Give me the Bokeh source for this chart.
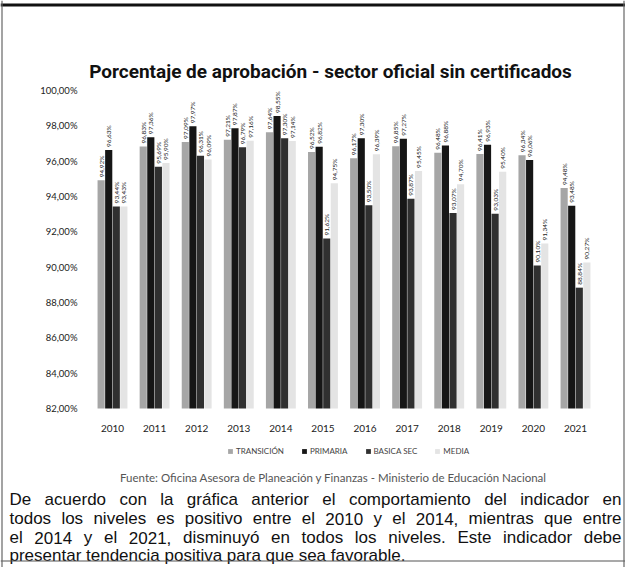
import math
from bokeh.plotting import figure
from bokeh.models import (Range1d, FixedTicker, ColumnDataSource, Legend, LegendItem,
                          Label, Span)
from bokeh.transform import dodge
from bokeh.core.properties import value
from bokeh.embed import file_html
from bokeh.resources import INLINE

years = [2010, 2011, 2012, 2013, 2014, 2015, 2016, 2017, 2018, 2019, 2020, 2021]
year_labels = ["2010", "2011", "2012", "2013", "2014", "2015", "2016", "2017", "2018", "2019", "2020", "2021"]
series_names = ["TRANSICIÓN", "PRIMARIA", "BASICA SEC", "MEDIA"]
transicion = [94.92, 96.83, 97.09, 97.21, 97.64, 96.52, 96.17, 96.85, 96.48, 96.41, 96.34, 94.48]
primaria = [96.63, 97.36, 97.97, 97.87, 98.55, 96.82, 97.30, 97.27, 96.88, 96.93, 96.06, 93.48]
basica_sec = [93.44, 95.69, 96.31, 96.79, 97.30, 91.62, 93.50, 93.87, 93.07, 93.03, 90.10, 88.84]
media = [93.43, 95.90, 96.09, 97.16, 97.14, 94.75, 96.39, 95.45, 94.70, 95.40, 91.34, 90.27]
y_ticks = [82, 84, 86, 88, 90, 92, 94, 96, 98, 100]
y_tick_labels = ["82,00%", "84,00%", "86,00%", "88,00%", "90,00%", "92,00%", "94,00%", "96,00%", "98,00%", "100,00%"]
title_text = "Porcentaje de aprobación - sector oficial sin certificados"
source_text = "Fuente: Oficina Asesora de Planeación y Finanzas - Ministerio de Educación Nacional"
paragraph_lines = [
    "De acuerdo con la gráfica anterior el comportamiento del indicador en",
    "todos los niveles es positivo entre el 2010 y el 2014, mientras que entre",
    "el 2014 y el 2021, disminuyó en todos los niveles. Este indicador debe",
    "presentar tendencia positiva para que sea favorable.",
]

def fmt(v):
    return f"{v:.2f}".replace(".", ",") + "%"

# ---- geometry (canvas = frame; pixel coordinates of the picture) ----
W, H = 625, 567
X0_PX, X1_PX = 112.0, 575.0          # centres of first / last year
Y0_PX, Y1_PX = 408.0, 90.0           # pixel rows of 82 % and 100 %
sx = (X1_PX - X0_PX) / (years[-1] - years[0])
sy = (Y0_PX - Y1_PX) / (y_ticks[-1] - y_ticks[0])

def px2x(px):
    return years[0] + (px - X0_PX) / sx

def py2y(py):
    return y_ticks[0] + (Y0_PX - py) / sy

p = figure(x_range=Range1d(px2x(0), px2x(W)), y_range=Range1d(py2y(H), py2y(0)),
           width=W, height=H, output_backend="svg", toolbar_location=None,
           min_border=0, min_border_left=0, min_border_right=0,
           min_border_top=0, min_border_bottom=0)
p.title.visible = False
p.xgrid.grid_line_color = None
p.ygrid.grid_line_color = None
p.outline_line_color = None

# page border (scanned box)
p.add_layout(Span(location=py2y(4.5), dimension="width", line_color="#111111", line_width=3))
p.add_layout(Span(location=py2y(560.5), dimension="width", line_color="#555555", line_width=1.2))
p.add_layout(Span(location=px2x(1.5), dimension="height", line_color="#666666", line_width=1.2))
p.add_layout(Span(location=px2x(623.5), dimension="height", line_color="#666666", line_width=1.2))

src = ColumnDataSource(dict(
    year=years,
    t=transicion, pr=primaria, b=basica_sec, m=media,
    t_lab=[fmt(v) for v in transicion], pr_lab=[fmt(v) for v in primaria],
    b_lab=[fmt(v) for v in basica_sec], m_lab=[fmt(v) for v in media],
))

fields = ["t", "pr", "b", "m"]
offsets = [-0.27, -0.09, 0.09, 0.27]
colors = ["#a6a6a6", "#161616", "#303030", "#e4e4e4"]
renderers = []
for f, off, c in zip(fields, offsets, colors):
    r = p.vbar(x=dodge("year", off), top=f, bottom=y_ticks[0], width=0.17,
               fill_color=c, line_color=None, source=src)
    renderers.append(r)
    p.text(x=dodge("year", off), y=f, text=f + "_lab", angle=math.pi / 2,
           text_font=value("Lato"), text_font_size="6.5px", text_color="#1a1a1a",
           text_align="left", text_baseline="middle", y_offset=-3, source=src)

# axes drawn inside the frame at fixed locations
p.xaxis.fixed_location = y_ticks[0]
p.yaxis.fixed_location = px2x(91)
p.xaxis.ticker = FixedTicker(ticks=years)
p.xaxis.major_label_overrides = {y: l for y, l in zip(years, year_labels)}
p.yaxis.ticker = FixedTicker(ticks=y_ticks)
p.yaxis.major_label_overrides = {t: l for t, l in zip(y_ticks, y_tick_labels)}
for ax in (p.xaxis[0], p.yaxis[0]):
    ax.axis_line_color = None
    ax.major_tick_line_color = None
    ax.minor_tick_line_color = None
    ax.major_label_text_font = "Lato"
    ax.major_label_text_color = "#222222"
p.yaxis.major_label_text_font_size = "9.5px"
p.yaxis.major_label_standoff = 8
p.xaxis.major_label_text_font_size = "10px"
p.xaxis.major_label_standoff = 10

legend = Legend(items=[LegendItem(label=n, renderers=[r]) for n, r in zip(series_names, renderers)],
                orientation="horizontal", location=(227, H - 456),
                label_text_font="Lato", label_text_font_size="8px", label_text_color="#444444",
                glyph_width=6, glyph_height=6, spacing=17, padding=0, margin=0,
                label_standoff=3, background_fill_alpha=0, border_line_color=None)
p.add_layout(legend)

p.add_layout(Label(x=px2x(330), y=py2y(71), text=title_text,
                   text_font="Roboto", text_font_style="bold", text_font_size="19px",
                   text_color="#111111", text_align="center", text_baseline="alphabetic"))
p.add_layout(Label(x=px2x(333), y=py2y(477), text=source_text,
                   text_font="Lato", text_font_size="11.5px", text_color="#555555",
                   text_align="center", text_baseline="middle"))

# paragraph, justified (Liberation Sans shares Arial's advance widths)
ARIAL = {" ": 278, ",": 278, ".": 278, "D": 722, "E": 667, "á": 556, "ó": 556}
ARIAL.update({c: 556 for c in "abdeghnopqu0123456789"})
ARIAL.update({c: 500 for c in "cksvxyz"})
ARIAL.update({c: 278 for c in "ft"})
ARIAL.update({c: 222 for c in "ijl"})
ARIAL.update({"m": 833, "r": 333, "w": 722})
FS = 17.0
LEFT_PX, RIGHT_PX = 9.0, 621.0
baselines_px = [499, 518, 537, 555]

wx, wy, wt = [], [], []
for i, (line, bpx) in enumerate(zip(paragraph_lines, baselines_px)):
    words = line.split(" ")
    widths = [sum(ARIAL.get(ch, 556) for ch in w) * FS / 1000 for w in words]
    if i < len(paragraph_lines) - 1:
        gap = (RIGHT_PX - LEFT_PX - sum(widths)) / (len(words) - 1)
    else:
        gap = ARIAL[" "] * FS / 1000
    cur = LEFT_PX
    for w, wd in zip(words, widths):
        wx.append(px2x(cur)); wy.append(py2y(bpx)); wt.append(w)
        cur += wd + gap
p.text(x=wx, y=wy, text=wt, text_font=value("Liberation Sans"), text_font_size=f"{FS}px",
       text_color="#111111", text_align="left", text_baseline="alphabetic")

open("out.html", "w").write(file_html(p, INLINE))
